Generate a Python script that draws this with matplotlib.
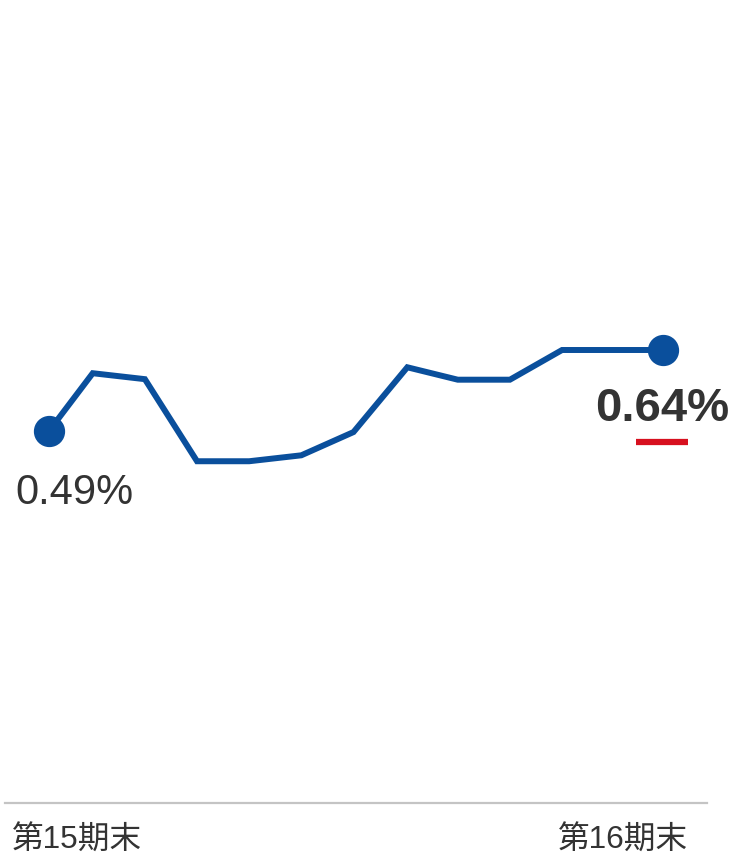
import matplotlib
matplotlib.use("Agg")
import matplotlib.pyplot as plt
from matplotlib.lines import Line2D

# data
days = [0, 26, 57, 88, 119, 150, 181, 213, 243, 274, 305, 335, 365]
values = [0.49, 0.597, 0.586, 0.434, 0.434, 0.445, 0.488, 0.608, 0.585, 0.585, 0.64, 0.64, 0.64]
start_label = "0.49%"
end_label = "0.64%"
tick_labels = ["第15期末", "第16期末"]

W, H = 733, 855
fig = plt.figure(figsize=(W / 100, H / 100), dpi=100)

ax = fig.add_axes([5 / W, (H - 803) / H, 702 / W, 803 / H])
px_per_day = 614 / 365
ax.set_xlim(-44 / px_per_day, 365 + 44 / px_per_day)
vpp = 0.15 / 81
ax.set_ylim(0.49 - (803 - 431) * vpp, 0.49 + 431 * vpp)

blue = "#0A4F9C"
ax.plot(days, values, color=blue, lw=4.3, solid_joinstyle="miter", solid_capstyle="butt", zorder=2)
ax.plot([days[0], days[-1]], [values[0], values[-1]], "o", color=blue, ms=21.5, zorder=3)

for s in ["top", "right", "left"]:
    ax.spines[s].set_visible(False)
ax.spines["bottom"].set_color("#c4c4c4")
ax.spines["bottom"].set_linewidth(1.6)
ax.set_xticks([])
ax.set_yticks([])

fam = ["Liberation Sans", "Noto Sans CJK JP", "DejaVu Sans"]

ax.annotate(start_label, (days[0], values[0]), xytext=(15 - 49, -(504 - 431)),
            textcoords="offset pixels", ha="left", va="baseline",
            fontsize=30, color="#333333", family=fam)
ax.annotate(end_label, (days[-1], values[-1]), xytext=(729 - 663, -(421 - 350)),
            textcoords="offset pixels", ha="right", va="baseline",
            fontsize=34, fontweight="bold", color="#333333", family=fam)
fig.add_artist(Line2D([636 / W, 688 / W], [1 - 442 / H, 1 - 442 / H],
                      color="#D7101F", lw=4.5, solid_capstyle="butt"))

fig.text(12 / W, 1 - 849 / H, tick_labels[0], ha="left", va="baseline",
         fontsize=22.8, color="#333333", family=fam)
fig.text(688 / W, 1 - 849 / H, tick_labels[1], ha="right", va="baseline",
         fontsize=22.8, color="#333333", family=fam)

fig.savefig("out.png", dpi=100, facecolor="white")
